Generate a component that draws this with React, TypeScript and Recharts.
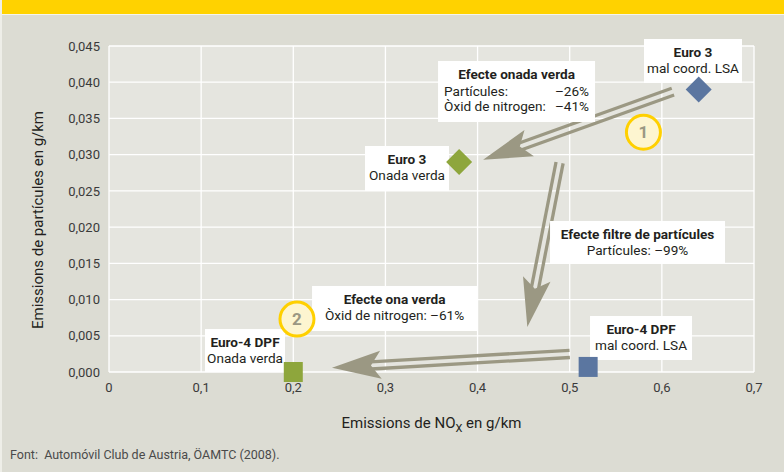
import {
  CartesianGrid,
  Label,
  ReferenceDot,
  ReferenceLine,
  Scatter,
  ScatterChart,
  XAxis,
  YAxis,
} from "recharts";

// Data: emissions per standard (NOx, particles) in g/km
const stages = ["Euro 3", "Euro-4 DPF"];
const noxLsa = [0.64, 0.52];
const pmLsa = [0.039, 0.0007];
const noxGreen = [0.38, 0.2];
const pmGreen = [0.029, 0.0];

const xTicks = [0, 0.1, 0.2, 0.3, 0.4, 0.5, 0.6, 0.7];
const yTicks = [0, 0.005, 0.01, 0.015, 0.02, 0.025, 0.03, 0.035, 0.04, 0.045];

// Annotation arrows (from -> to, in data units)
const arrowFromX = [0.612, 0.489, 0.5];
const arrowFromY = [0.0387, 0.0289, 0.0025];
const arrowToX = [0.406, 0.454, 0.242];
const arrowToY = [0.0293, 0.0062, 0.0006];

// Numbered badges
const badgeLabels = ["1", "2"];
const badgeX = [0.58, 0.204];
const badgeY = [0.0331, 0.0073];

const FONT = "Roboto, 'Open Sans', sans-serif";
const TEXT = "#231f20";
const ARROW = "#9b9883";
const BLUE = "#5b76a0";
const GREEN = "#8ea63c";

type Note = {
  x: number;
  y: number;
  w: number;
  h: number;
  title: string;
  lines?: string[];
  rows?: [string, string][];
};

const notes: Note[] = [
  { x: 0.6338, y: 0.04293, w: 98, h: 44, title: "Euro 3", lines: ["mal coord. LSA"] },
  {
    x: 0.4423,
    y: 0.03872,
    w: 157,
    h: 61,
    title: "Efecte onada verda",
    rows: [
      ["Partícules:", "–26%"],
      ["Òxid de nitrogen:", "–41%"],
    ],
  },
  { x: 0.3234, y: 0.02809, w: 84, h: 45, title: "Euro 3", lines: ["Onada verda"] },
  { x: 0.5736, y: 0.01788, w: 175, h: 43, title: "Efecte filtre de partícules", lines: ["Partícules: –99%"] },
  { x: 0.3099, y: 0.00877, w: 165, h: 45, title: "Efecte ona verda", lines: ["Òxid de nitrogen: –61%"] },
  { x: 0.1476, y: 0.00297, w: 80, h: 43, title: "Euro-4 DPF", lines: ["Onada verda"] },
  { x: 0.5774, y: 0.00469, w: 102, h: 44, title: "Euro-4 DPF", lines: ["mal coord. LSA"] },
];

const lsaData = stages.map((s, i) => ({ stage: s, x: noxLsa[i], y: pmLsa[i] }));
const greenData = stages.map((s, i) => ({ stage: s, x: noxGreen[i], y: pmGreen[i] }));

const fmt = (digits: number) => (v: number) =>
  v === 0 && digits === 1 ? "0" : v.toFixed(digits).replace(".", ",");

const markerShape = (color: string) => (props: any) => {
  const { cx, cy, payload } = props;
  if (payload.stage === "Euro 3") {
    const r = 13;
    return (
      <polygon
        points={`${cx},${cy - r} ${cx + r},${cy} ${cx},${cy + r} ${cx - r},${cy}`}
        fill={color}
      />
    );
  }
  return <rect x={cx - 9.5} y={cy - 10} width={19} height={20} fill={color} />;
};

const arrowShape = (props: any) => {
  const { x1, y1, x2, y2 } = props;
  const dx = x2 - x1;
  const dy = y2 - y1;
  const len = Math.hypot(dx, dy);
  const ux = dx / len;
  const uy = dy / len;
  const px = -uy;
  const py = ux;
  const headLen = 49;
  const headW = 14;
  const notch = 10;
  const bx = x2 - ux * headLen;
  const by = y2 - uy * headLen;
  const nx = x2 - ux * (headLen - notch);
  const ny = y2 - uy * (headLen - notch);
  return (
    <g>
      {[-3.6, 3.6].map((off) => (
        <line
          key={off}
          x1={x1 + px * off}
          y1={y1 + py * off}
          x2={nx + px * off}
          y2={ny + py * off}
          stroke={ARROW}
          strokeWidth={3.3}
        />
      ))}
      <polygon
        points={`${x2},${y2} ${bx + px * headW},${by + py * headW} ${nx},${ny} ${bx - px * headW},${by - py * headW}`}
        fill={ARROW}
      />
    </g>
  );
};

const noteShape = (note: Note) => (props: any) => {
  const { cx, cy } = props;
  const left = cx - note.w / 2;
  const top = cy - note.h / 2;
  return (
    <g fontFamily={FONT} fill={TEXT}>
      <rect x={left} y={top} width={note.w} height={note.h} fill="#ffffff" />
      <text x={cx} y={top + 18} textAnchor="middle" fontSize={13.6} fontWeight={700}>
        {note.title}
      </text>
      {(note.lines || []).map((l, i) => (
        <text key={l} x={cx} y={top + 34 + i * 15} textAnchor="middle" fontSize={13.6}>
          {l}
        </text>
      ))}
      {(note.rows || []).map((r, i) => (
        <g key={r[0]} fontSize={13.6}>
          <text x={left + 6} y={top + 35 + i * 15}>
            {r[0]}
          </text>
          <text x={left + note.w - 6} y={top + 35 + i * 15} textAnchor="end">
            {r[1]}
          </text>
        </g>
      ))}
    </g>
  );
};

const badgeShape = (label: string) => (props: any) => {
  const { cx, cy } = props;
  return (
    <g>
      <circle cx={cx} cy={cy} r={17} fill="#fdf5d0" stroke="#ffd000" strokeWidth={3} />
      <text
        x={cx}
        y={cy + 6}
        textAnchor="middle"
        fontSize={17}
        fontWeight={700}
        fontFamily={FONT}
        fill={ARROW}
      >
        {label}
      </text>
    </g>
  );
};

const XTitle = (props: any) => {
  const vb = props.viewBox;
  return (
    <text
      x={vb.x + vb.width / 2}
      y={vb.y + 56}
      textAnchor="middle"
      fontSize={15}
      fontFamily={FONT}
      fill={TEXT}
    >
      Emissions de NO
      <tspan fontSize={11} dy={4}>
        X
      </tspan>
      <tspan dy={-4}> en g/km</tspan>
    </text>
  );
};

const YTitle = (props: any) => {
  const vb = props.viewBox;
  const cy = vb.y + vb.height / 2 + 11;
  return (
    <text
      transform={`translate(43, ${cy}) rotate(-90)`}
      textAnchor="middle"
      fontSize={15}
      fontFamily={FONT}
      fill={TEXT}
    >
      Emissions de partícules en g/km
    </text>
  );
};

export default function App() {
  const tick = { fill: "#3a3a3a", fontSize: 13, fontFamily: FONT };
  return (
    <div
      style={{
        position: "relative",
        width: 784,
        height: 472,
        background: "#dcdcd3",
        overflow: "hidden",
        fontFamily: FONT,
      }}
    >
      <style>{"body{margin:0}"}</style>
      {/* HEADER BAND */}
      <div
        style={{
          position: "absolute",
          left: 0,
          top: 0,
          width: 784,
          height: 14,
          background: "#ffd200",
          borderBottom: "1.5px solid #f4f4ee",
        }}
      />
      <div
        style={{
          position: "absolute",
          left: 0,
          top: 0,
          width: 2,
          height: 472,
          background: "#eeeee8",
        }}
      />

      <ScatterChart
        width={784}
        height={472}
        margin={{ top: 46, right: 30, bottom: 40, left: 49 }}
        style={{ position: "absolute", left: 0, top: 0 }}
      >
        <CartesianGrid stroke="#ffffff" strokeWidth={1.3} fill="#e5e5df" />
        <XAxis
          type="number"
          dataKey="x"
          domain={[0, 0.7]}
          ticks={xTicks}
          tickFormatter={fmt(1)}
          axisLine={false}
          tickLine={false}
          tickMargin={5}
          height={60}
          tick={tick}
        >
          <Label content={<XTitle />} />
        </XAxis>
        <YAxis
          type="number"
          dataKey="y"
          domain={[0, 0.045]}
          ticks={yTicks}
          tickFormatter={fmt(3)}
          axisLine={false}
          tickLine={false}
          tickMargin={3}
          width={60}
          tick={tick}
        >
          <Label content={<YTitle />} />
        </YAxis>

        {arrowFromX.map((fx, i) => (
          <ReferenceLine
            key={`arrow-${i}`}
            segment={[
              { x: fx, y: arrowFromY[i] },
              { x: arrowToX[i], y: arrowToY[i] },
            ]}
            ifOverflow="visible"
            shape={arrowShape}
          />
        ))}

        {notes.map((n, i) => (
          <ReferenceDot
            key={`note-${i}`}
            x={n.x}
            y={n.y}
            r={1}
            ifOverflow="visible"
            shape={noteShape(n)}
          />
        ))}

        {badgeLabels.map((b, i) => (
          <ReferenceDot
            key={`badge-${b}`}
            x={badgeX[i]}
            y={badgeY[i]}
            r={1}
            ifOverflow="visible"
            shape={badgeShape(b)}
          />
        ))}

        <Scatter
          name="mal coord. LSA"
          data={lsaData}
          shape={markerShape(BLUE)}
          isAnimationActive={false}
        />
        <Scatter
          name="Onada verda"
          data={greenData}
          shape={markerShape(GREEN)}
          isAnimationActive={false}
        />
      </ScatterChart>

      <div
        style={{
          position: "absolute",
          left: 10,
          top: 447,
          fontSize: 12.5,
          color: "#4a4a4a",
          whiteSpace: "pre",
        }}
      >
        {"Font:  Automóvil Club de Austria, ÖAMTC (2008)."}
      </div>
    </div>
  );
}
